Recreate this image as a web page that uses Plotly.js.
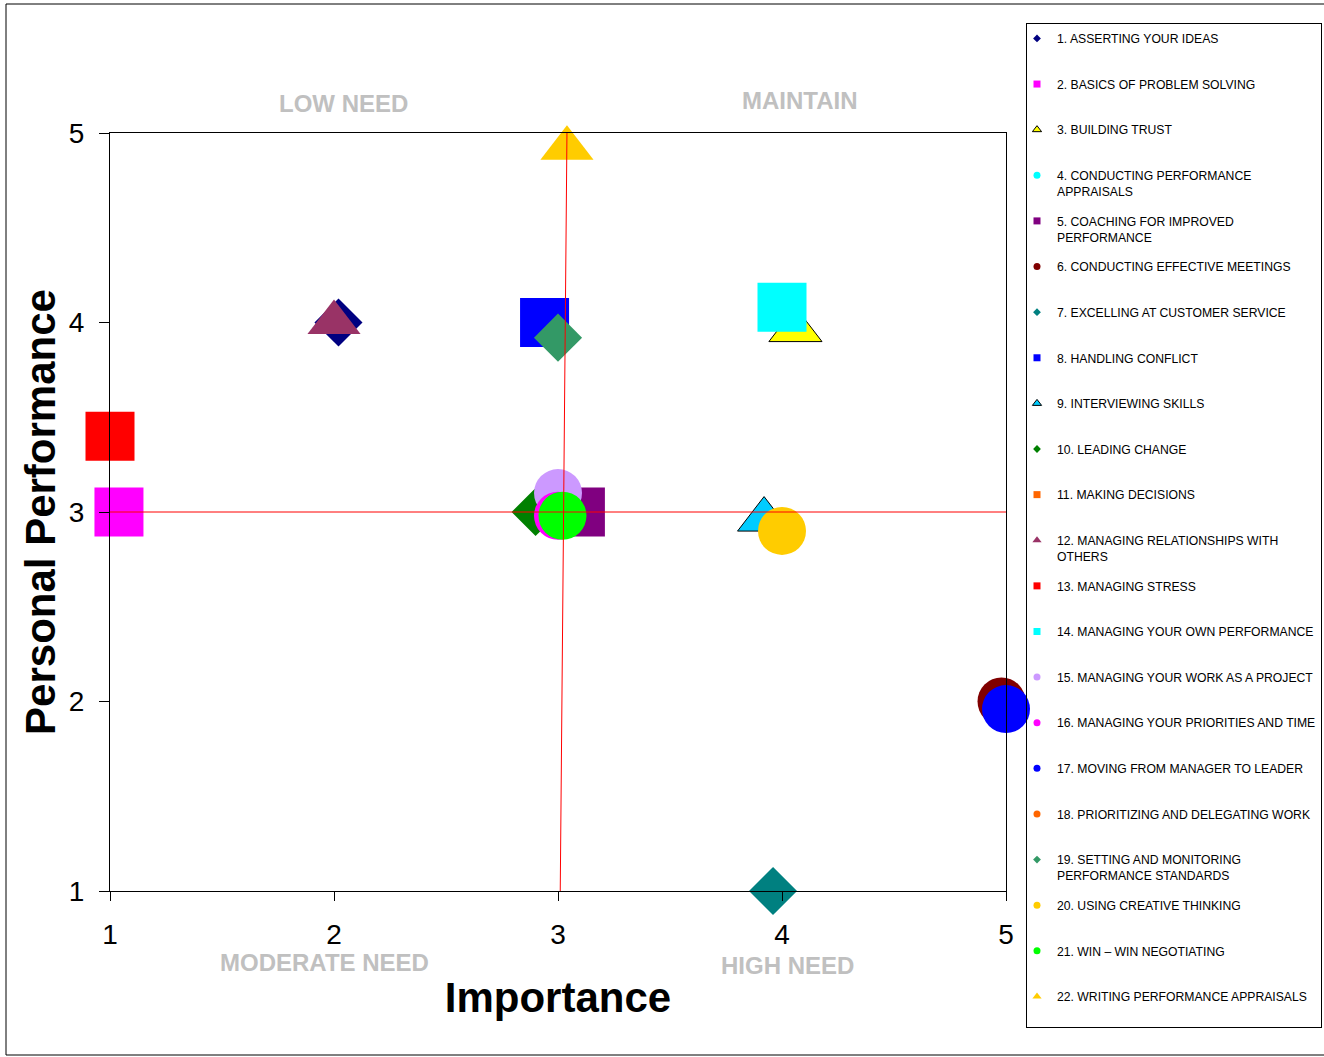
<!DOCTYPE html>
<html>
<head>
<meta charset="utf-8">
<script src="https://cdn.plot.ly/plotly-3.0.1.min.js"></script>
<style>
  html, body { margin: 0; padding: 0; background: #ffffff; }
  #chart { width: 1324px; height: 1057px; }
</style>
</head>
<body>
<div id="chart"></div>
<script>
// ---- data ----
const seriesNames = [
  "1. ASSERTING YOUR IDEAS",
  "2. BASICS OF PROBLEM SOLVING",
  "3. BUILDING TRUST",
  "4. CONDUCTING PERFORMANCE<br>APPRAISALS",
  "5. COACHING FOR IMPROVED<br>PERFORMANCE",
  "6. CONDUCTING EFFECTIVE MEETINGS",
  "7. EXCELLING AT CUSTOMER SERVICE",
  "8. HANDLING CONFLICT",
  "9. INTERVIEWING SKILLS",
  "10. LEADING CHANGE",
  "11. MAKING DECISIONS",
  "12. MANAGING RELATIONSHIPS WITH<br>OTHERS",
  "13. MANAGING STRESS",
  "14. MANAGING YOUR OWN PERFORMANCE",
  "15. MANAGING YOUR WORK AS A PROJECT",
  "16. MANAGING YOUR PRIORITIES AND TIME",
  "17. MOVING FROM MANAGER TO LEADER",
  "18. PRIORITIZING AND DELEGATING WORK",
  "19. SETTING AND MONITORING<br>PERFORMANCE STANDARDS",
  "20. USING CREATIVE THINKING",
  "21. WIN \u2013 WIN NEGOTIATING",
  "22. WRITING PERFORMANCE APPRAISALS"
];
// Importance (x) per series; null = no visible point
const importance = [2.02, 1.04, 4.06, null, 3.10, 4.98, 3.96, 2.94, 3.92, 2.90, null,
                    2.00, 1.00, 4.00, 3.00, 3.00, 5.00, null, 3.00, 4.00, 3.02, 3.04];
// Personal Performance (y) per series
const performance = [4.00, 3.00, 3.96, null, 3.00, 2.00, 1.00, 4.00, 2.96, 3.00, null,
                     4.00, 3.40, 4.08, 3.10, 2.98, 1.96, null, 3.92, 2.90, 2.98, 4.92];
const seriesColors = ["#000080", "#FF00FF", "#FFFF00", "#00FFFF", "#800080", "#800000",
                      "#008080", "#0000FF", "#00CCFF", "#008000", "#FF6600", "#993366",
                      "#FF0000", "#00FFFF", "#CC99FF", "#FF00FF", "#0000FF", "#FF6600",
                      "#339966", "#FFCC00", "#00FF00", "#FFCC00"];
const seriesSymbols = ["diamond", "square", "triangle-up", "circle", "square", "circle",
                       "diamond", "square", "triangle-up", "diamond", "square", "triangle-up",
                       "square", "square", "circle", "circle", "circle", "circle",
                       "diamond", "circle", "circle", "triangle-up"];
const outlined = [false, false, true, false, false, false, false, false, true, false, false,
                  false, false, false, false, false, false, false, false, false, false, false];

// Reference lines
const vLineX = [3.04, 3.01];
const vLineY = [5.0, 1.0];
const hLineX = [0.99, 5.02];
const hLineY = [3.0, 3.0];

const xTicks = [1, 2, 3, 4, 5];
const yTicks = [1, 2, 3, 4, 5];
const quadrantLabels = ["LOW NEED", "MAINTAIN", "MODERATE NEED", "HIGH NEED"];

// ---- styling ----
const FONT = "Liberation Sans, Arial, Helvetica, sans-serif";
const plotSize = { circle: 48, square: 49, diamond: 37, "triangle-up": 46 };
const legendSize = { circle: 7, square: 7, diamond: 6, "triangle-up": 8 };

const traces = [];
seriesNames.forEach((name, i) => {
  const sym = seriesSymbols[i];
  const line = outlined[i] ? { color: "#000000", width: 1 } : { width: 0 };
  traces.push({
    type: "scatter", mode: "markers",
    x: importance[i] === null ? [] : [importance[i]],
    y: performance[i] === null ? [] : [performance[i]],
    name: name.replace("<br>", " "),
    legendgroup: "g" + i,
    showlegend: false,
    cliponaxis: false,
    marker: { symbol: sym, size: plotSize[sym], color: seriesColors[i], line: line, opacity: 1 },
    hovertemplate: name.replace("<br>", " ") + "<br>Importance: %{x}<br>Performance: %{y}<extra></extra>"
  });
});
// legend entries (small symbols)
seriesNames.forEach((name, i) => {
  const sym = seriesSymbols[i];
  const line = outlined[i] ? { color: "#000000", width: 1 } : { width: 0 };
  const label = name.indexOf("<br>") >= 0 ? name : name + "<br>&nbsp;";
  traces.push({
    type: "scatter", mode: "markers",
    x: [null], y: [null],
    name: label,
    legendgroup: "g" + i,
    showlegend: true,
    marker: { symbol: sym, size: legendSize[sym], color: seriesColors[i], line: line },
    hoverinfo: "skip"
  });
});
// red quadrant lines
traces.push({
  type: "scatter", mode: "lines", x: vLineX, y: vLineY, showlegend: false,
  cliponaxis: false, line: { color: "#FF0000", width: 1 }, hoverinfo: "skip"
});
traces.push({
  type: "scatter", mode: "lines", x: hLineX, y: hLineY, showlegend: false,
  cliponaxis: false, line: { color: "#FF0000", width: 1 }, hoverinfo: "skip"
});

const ml = 110, mr = 318, mt = 133, mb = 166, W = 1324, H = 1057;
const pw = W - ml - mr, ph = H - mt - mb;
const px2x = p => (p - ml) / pw;
const py2y = p => (H - mb - p) / ph;

const quadPos = [[343.5, 104], [800, 100], [324.5, 962], [787.5, 965]];
const annotations = quadrantLabels.map((t, i) => ({
  text: t, xref: "paper", yref: "paper",
  x: px2x(quadPos[i][0]), y: py2y(quadPos[i][1]),
  xanchor: "center", yanchor: "middle", showarrow: false,
  font: { family: FONT, size: 24, color: "#C0C0C0", weight: "bold" }
}));

const layout = {
  width: W, height: H,
  margin: { l: ml, r: mr, t: mt, b: mb, pad: 0, autoexpand: false },
  paper_bgcolor: "#ffffff", plot_bgcolor: "#ffffff",
  font: { family: FONT, color: "#000000" },
  showlegend: true,
  xaxis: {
    range: [1, 5], tickvals: xTicks, ticktext: xTicks.map(String),
    showgrid: false, zeroline: false,
    showline: true, linecolor: "#000000", linewidth: 1, mirror: true,
    ticks: "outside", ticklen: 9, tickcolor: "#000000", tickwidth: 1,
    ticklabelstandoff: 9,
    tickfont: { family: FONT, size: 28, color: "#000000" },
    title: { text: "Importance", standoff: 34,
             font: { family: FONT, size: 42, color: "#000000", weight: "bold" } },
    automargin: false,
    fixedrange: true
  },
  yaxis: {
    range: [1, 5], tickvals: yTicks, ticktext: yTicks.map(String),
    showgrid: false, zeroline: false,
    showline: true, linecolor: "#000000", linewidth: 1, mirror: true,
    ticks: "outside", ticklen: 10, tickcolor: "#000000", tickwidth: 1,
    ticklabelstandoff: 9,
    tickfont: { family: FONT, size: 28, color: "#000000" },
    title: { text: "Personal Performance", standoff: 0,
             font: { family: FONT, size: 42, color: "#000000", weight: "bold" } },
    automargin: false,
    fixedrange: true
  },
  legend: {
    x: px2x(1322), xanchor: "right",
    y: py2y(23), yanchor: "top",
    maxheight: 1020,
    indentation: -10,
    bgcolor: "rgba(255,255,255,0)", bordercolor: "#000000", borderwidth: 1,
    font: { family: FONT, size: 12.2, color: "#000000" },
    traceorder: "grouped", tracegroupgap: 10.9, valign: "top",
    itemclick: false, itemdoubleclick: false
  },
  annotations: annotations,
  shapes: [{
    type: "rect", xref: "paper", yref: "paper", layer: "below",
    x0: px2x(6), x1: px2x(1340), y0: py2y(1055), y1: py2y(4),
    line: { color: "#000000", width: 1 }, fillcolor: "rgba(0,0,0,0)"
  }]
};

Plotly.newPlot("chart", traces, layout, { displayModeBar: false, responsive: false });
</script>
</body>
</html>
